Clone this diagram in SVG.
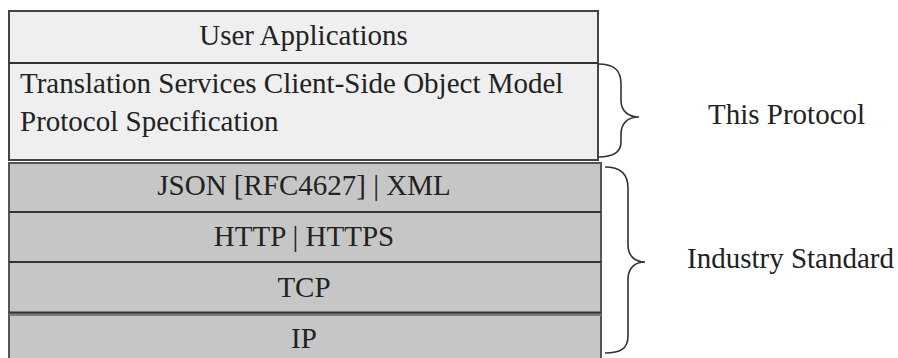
<svg xmlns="http://www.w3.org/2000/svg" width="898" height="358" viewBox="0 0 898 358">
<style>
text { font-family: "Liberation Serif", "Times New Roman", serif; font-size: 29px; fill: #222; }
.c { text-anchor: middle; }
.light { fill: #efefef; stroke: #444; stroke-width: 2; }
.gray { fill: #c6c6c6; stroke: #555; stroke-width: 2; }
.div { stroke: #333; stroke-width: 2; fill: none; }
.brace { stroke: #333; stroke-width: 1.6; fill: none; }
</style>
<rect width="898" height="358" fill="#ffffff"/>
<g id="this-protocol-block">
  <rect class="light" x="9" y="11" width="589" height="149"/>
</g>
<g id="user-applications">
  <line class="div" x1="9" y1="63" x2="598" y2="63"/>
  <text class="c" x="303.5" y="45">User Applications</text>
</g>
<g id="translation-services">
  <text x="20" y="93">Translation Services Client-Side Object Model</text>
  <text x="20" y="131">Protocol Specification</text>
</g>
<g id="industry-block">
  <rect class="gray" x="9" y="163" width="592" height="200"/>
</g>
<g id="json">
  <text class="c" x="304" y="195">JSON [RFC4627] | XML</text>
</g>
<g id="http">
  <line class="div" x1="9" y1="212" x2="601" y2="212"/>
  <text class="c" x="304" y="246">HTTP | HTTPS</text>
</g>
<g id="tcp">
  <line class="div" x1="9" y1="262" x2="601" y2="262"/>
  <text class="c" x="304" y="297">TCP</text>
</g>
<g id="ip">
  <rect x="9" y="313" width="592" height="3" fill="#7a7a7a"/>
  <line class="div" x1="9" y1="312.5" x2="601" y2="312.5"/>
  <text class="c" x="304" y="348">IP</text>
</g>
<g id="connectors">
  <path class="brace" d="M598,64 C614,64 621,70 621,84 L621,100 C621,111 628,117 639,117 C628,117 621,123 621,134 L621,142 C621,152 614,157 598,157"/>
  <path class="brace" d="M605,167 C620,167 628,173 628,188 L628,245 C628,256 635,262 645,262 C635,262 628,268 628,279 L628,336 C628,349 620,353 605,353"/>
</g>
<g id="label-this-protocol">
  <text x="708" y="124">This Protocol</text>
</g>
<g id="label-industry-standard">
  <text x="687" y="268">Industry Standard</text>
</g>
</svg>
